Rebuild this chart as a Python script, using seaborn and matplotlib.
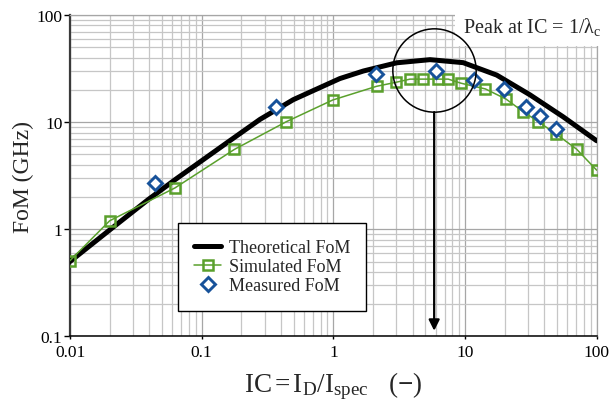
import matplotlib
matplotlib.use("Agg")
import matplotlib.pyplot as plt
from matplotlib.patches import Rectangle
from matplotlib.ticker import LogLocator, NullFormatter
import seaborn as sns

# Inversion coefficient (IC) and figure of merit (GHz)
ic_theory = [0.01, 0.0201, 0.0394, 0.0627, 0.155, 0.277, 0.496, 1.12, 1.69,
             3.03, 5.42, 9.69, 17.4, 31.1, 55.7, 100]
fom_theory = [0.5, 0.99, 1.9, 2.9, 6.4, 10.6, 16.2, 25.5, 30.0,
              35.8, 38.3, 35.9, 27.5, 18.0, 11.2, 6.7]

ic_sim = [0.01, 0.02, 0.0626, 0.177, 0.44, 0.99, 2.13, 2.97, 3.82, 4.82,
          6.27, 7.46, 9.3, 14.3, 20.5, 27.7, 36, 49.5, 70.3, 100]
fom_sim = [0.51, 1.2, 2.43, 5.56, 10.1, 16.1, 21.6, 23.5, 25.2, 25.2,
           25.2, 25.2, 23.1, 20.4, 16.4, 12.5, 10.1, 7.7, 5.6, 3.56]

ic_meas = [0.0442, 0.365, 2.1, 6.0, 11.7, 19.7, 29, 37, 49]
fom_meas = [2.73, 13.7, 28.1, 30.2, 24.8, 20.3, 13.7, 11.5, 8.6]

# Peak marker (circle centre and arrow tip)
peak_ic = 5.83
peak_fom = 30.4
arrow_start_fom = 12.4
arrow_end_fom = 0.113

x_ticks = [0.01, 0.1, 1, 10, 100]
x_tick_labels = ["0.01", "0.1", "1", "10", "100"]
y_ticks = [0.1, 1, 10, 100]
y_tick_labels = ["0.1", "1", "10", "100"]

green = "#5aa02c"
blue = "#17529a"

sns.set_theme(style="white")
plt.rcParams["font.family"] = ["Liberation Serif", "DejaVu Serif"]
plt.rcParams["mathtext.fontset"] = "custom"
plt.rcParams["mathtext.rm"] = "Liberation Serif"
plt.rcParams["mathtext.it"] = "Liberation Serif:italic"
plt.rcParams["mathtext.bf"] = "Liberation Serif:bold"

fig = plt.figure(figsize=(6.13, 4.10), dpi=100)
ax = fig.add_axes([0.1142, 0.177, 0.8592, 0.784])

sns.lineplot(x=ic_theory, y=fom_theory, ax=ax, color="black", lw=3.6,
             sort=False, estimator=None, label="Theoretical FoM", zorder=3)
sns.lineplot(x=ic_sim, y=fom_sim, ax=ax, color=green, lw=1.1,
             marker="s", ms=7, mfc="none", mec=green, mew=1.8,
             sort=False, estimator=None, label="Simulated FoM", zorder=4)
sns.lineplot(x=ic_meas, y=fom_meas, ax=ax, color=blue, ls="none",
             marker="D", ms=7.5, mfc="white", mec=blue, mew=2.1,
             sort=False, estimator=None, label="Measured FoM", zorder=5)

ax.set_xscale("log")
ax.set_yscale("log")
ax.set_xlim(0.01, 100)
ax.set_ylim(0.1, 100)

ax.set_xticks(x_ticks)
ax.set_xticklabels(x_tick_labels)
ax.set_yticks(y_ticks)
ax.set_yticklabels(y_tick_labels)
ax.xaxis.set_minor_locator(LogLocator(base=10, subs=range(2, 10)))
ax.yaxis.set_minor_locator(LogLocator(base=10, subs=range(2, 10)))
ax.xaxis.set_minor_formatter(NullFormatter())
ax.yaxis.set_minor_formatter(NullFormatter())

ax.grid(which="major", color="#a6a6a6", lw=0.9)
ax.grid(which="minor", color="#c6c6c6", lw=0.9)
ax.set_axisbelow(True)

ax.tick_params(axis="both", which="major", labelsize=12.5, colors="black",
               direction="out")
ax.tick_params(axis="y", which="major", length=4.5, width=1, left=True, pad=1)
ax.tick_params(axis="x", which="major", length=2.5, width=1, bottom=True, pad=3)
ax.tick_params(which="minor", length=0)

for side in ("top", "right"):
    ax.spines[side].set_color("#a6a6a6")
    ax.spines[side].set_linewidth(0.9)
ax.spines["left"].set_color("#3a3a3a")
ax.spines["left"].set_linewidth(1.6)
ax.spines["bottom"].set_color("black")
ax.spines["bottom"].set_linewidth(1.1)

ax.set_xlabel(r"IC$\,$=$\,$I$_\mathrm{D}$/I$_\mathrm{spec}$   ($\mathbf{-}$)",
              fontsize=19.5, labelpad=7)
ax.set_ylabel("FoM (GHz)", fontsize=17, labelpad=1.5)

# Circle around the peak and arrow down to the axis
ax.plot([peak_ic], [peak_fom], marker="o", ms=60, mfc="none", mec="black",
        mew=1.1, zorder=6)
ax.annotate("", xy=(peak_ic, arrow_end_fom), xytext=(peak_ic, arrow_start_fom),
            arrowprops=dict(arrowstyle="-|>", color="black", lw=1.6,
                            mutation_scale=16, shrinkA=0, shrinkB=0),
            zorder=6)

# White box behind the peak note
ax.add_patch(Rectangle((0.731, 0.9036), 0.3, 0.12, transform=ax.transAxes,
                       facecolor="white", edgecolor="none", clip_on=False,
                       zorder=2.6))
ax.text(9.64, 69.3, r"Peak at IC = 1/λ$_\mathrm{c}$", fontsize=14.5,
        ha="left", va="baseline", zorder=7)

leg = ax.legend(loc="lower left", bbox_to_anchor=(0.205, 0.08),
                fontsize=13, frameon=True, fancybox=False, framealpha=1,
                edgecolor="black", borderpad=0.9, labelspacing=0.12,
                handlelength=1.5, handletextpad=0.4, borderaxespad=0)
leg.get_frame().set_linewidth(1.0)
leg.set_zorder(8)

fig.savefig("out.png", dpi=100)
